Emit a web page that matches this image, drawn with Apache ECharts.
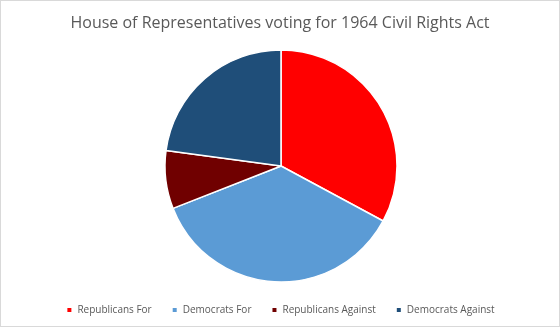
<!DOCTYPE html>
<html>
<head>
<meta charset="utf-8">
<script src="https://cdn.jsdelivr.net/npm/echarts@6/dist/echarts.min.js"></script>
<style>
  html, body { margin: 0; padding: 0; background: #fff; }
  #chart { width: 558px; height: 325px; border: 1px solid #d9d9d9; }
</style>
</head>
<body>
<div id="chart"></div>
<script>
// House vote on the Civil Rights Act of 1964, by party and position
const categories = ['Republicans For', 'Democrats For', 'Republicans Against', 'Democrats Against'];
const votes = [138, 152, 34, 96];
const colors = ['#ff0000', '#5b9bd5', '#700000', '#1f4e79'];

const chart = echarts.init(document.getElementById('chart'), null, { renderer: 'canvas' });

chart.setOption({
  animation: false,
  title: {
    text: 'House of Representatives voting for 1964 Civil Rights Act',
    left: 'center',
    top: 9,
    textStyle: { fontFamily: 'Open Sans', fontSize: 16, fontWeight: 'normal', color: '#595959' }
  },
  legend: {
    bottom: 6,
    left: 'center',
    itemWidth: 6,
    itemHeight: 6,
    itemGap: 19,
    icon: 'rect',
    textStyle: { fontFamily: 'Open Sans', fontSize: 10, color: '#595959' },
    data: categories
  },
  series: [{
    type: 'pie',
    center: [280, 165],
    radius: [0, 116],
    startAngle: 90,
    clockwise: true,
    label: { show: false },
    labelLine: { show: false },
    itemStyle: { borderColor: '#ffffff', borderWidth: 1.5 },
    data: categories.map((name, i) => ({
      name,
      value: votes[i],
      itemStyle: { color: colors[i] }
    }))
  }]
});
</script>
</body>
</html>
